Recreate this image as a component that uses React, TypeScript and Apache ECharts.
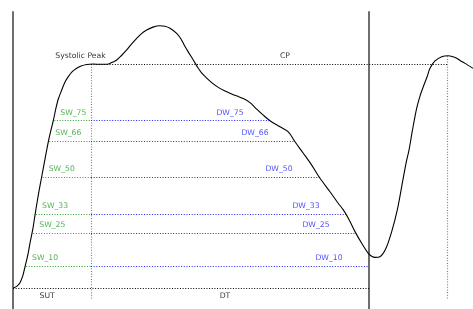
import React, { useEffect, useRef } from "react";
import * as echarts from "echarts";

// Pulse waveform (t in samples, amplitude normalised: foot = 0, systolic peak = 1)
const waveT = [0, 4, 7, 10, 12, 15, 17, 20, 22, 24, 26, 28.7, 32, 35.3, 38, 40.3, 43, 45.3, 48.7, 52, 55.3, 59, 63.7, 68, 73.7, 80, 87, 93, 97, 100, 103.7, 108, 113.7, 118, 123.7, 128, 133.7, 140, 147, 152, 157, 163.7, 168, 172, 176, 180.3, 185.3, 189, 193.7, 199, 205.3, 211, 217, 224, 230.3, 237, 243.7, 250, 257, 267, 275.3, 282, 290.3, 298.7, 307, 317, 325, 330.3, 335.3, 342, 348.7, 355.3, 359, 362, 367, 373, 378.7, 384.3, 388.7, 393, 396, 399.5, 403.7, 407, 410.3, 414, 417, 422, 428.7, 435.3, 439, 443.7, 447, 452, 460];
const waveA = [0, 0.01, 0.025, 0.059, 0.096, 0.153, 0.202, 0.269, 0.327, 0.381, 0.434, 0.498, 0.577, 0.654, 0.707, 0.748, 0.805, 0.845, 0.885, 0.921, 0.945, 0.966, 0.982, 0.992, 0.999, 1.001, 1.0, 1.0, 1.004, 1.01, 1.019, 1.037, 1.064, 1.088, 1.116, 1.135, 1.153, 1.166, 1.172, 1.17, 1.161, 1.138, 1.113, 1.079, 1.05, 1.019, 0.982, 0.959, 0.938, 0.917, 0.897, 0.883, 0.871, 0.858, 0.847, 0.829, 0.8, 0.774, 0.748, 0.721, 0.698, 0.654, 0.603, 0.55, 0.491, 0.431, 0.381, 0.35, 0.313, 0.253, 0.201, 0.156, 0.142, 0.138, 0.141, 0.179, 0.253, 0.35, 0.454, 0.558, 0.617, 0.707, 0.804, 0.858, 0.9, 0.943, 0.982, 1.015, 1.034, 1.038, 1.035, 1.027, 1.017, 1.004, 0.982];

// Key time points
const footT = 0;
const systolicPeakT = 78;
const cycleEndT = 356;
const nextPeakT = 434;
const nextPeakA = 1.036;

// Width levels
const levelNames = ["75", "66", "50", "33", "25", "10"];
const levelValues = [0.748, 0.656, 0.497, 0.332, 0.246, 0.1];
const swStartT = [41.3, 36.3, 29.7, 23, 20.3, 13];
const dwEndT = [257, 282, 306, 333, 343, 356];

const Y_MIN = -0.0924;
const Y_MAX = 1.287;
const GREEN = "#2ca02c";
const BLUE = "#1f1fff";
const FONT = "DejaVu Sans";
const FS = 7.7;

export default function App() {
  const ref = useRef<HTMLDivElement>(null);
  useEffect(() => {
    if (!ref.current) return;
    const chart = echarts.init(ref.current, null, { renderer: "svg" });
    const dotted = (color: string, width = 1) => ({ color, width, type: [1, 1.65] as number[] });
    const seg = (x1: number, y1: number, x2: number, y2: number, ls: any) => [
      { coord: [x1, y1], lineStyle: ls },
      { coord: [x2, y2] },
    ];
    const markLines: any[] = [
      seg(footT, 1.237, footT, Y_MIN, { color: "#6e6e6e", width: 2, type: "solid" }),
      seg(cycleEndT, 1.237, cycleEndT, Y_MIN, { color: "#6e6e6e", width: 2, type: "solid" }),
      seg(systolicPeakT, 1, systolicPeakT, -0.049, dotted("#808080", 1.2)),
      seg(nextPeakT, nextPeakA, nextPeakT, -0.049, dotted("#808080", 1.2)),
      seg(systolicPeakT, 1, nextPeakT, 1, dotted("#000")),
      seg(footT, 0, cycleEndT, 0, dotted("#000")),
    ];
    levelValues.forEach((lv, i) => {
      markLines.push(seg(swStartT[i], lv, systolicPeakT, lv, dotted(GREEN)));
      markLines.push(seg(systolicPeakT, lv, dwEndT[i], lv, dotted(BLUE)));
    });

    const lbl = (x: number, y: number, name: string, color: string, offset: number[], align = "center") => ({
      value: [x, y],
      name,
      label: { color, offset, align },
    });
    const labels: any[] = [
      lbl(systolicPeakT, 1, "Systolic Peak", "#000", [-10.5, -8.8]),
      lbl(272, 1, "CP", "#000", [0, -8.3]),
      lbl(34.2, 0, "SUT", "#000", [0, 7.4]),
      lbl(212, 0, "DT", "#000", [0, 7.4]),
    ];
    levelValues.forEach((lv, i) => {
      labels.push(lbl(swStartT[i], lv, "SW_" + levelNames[i], GREEN, [6, -8.7], "left"));
      labels.push(lbl(dwEndT[i], lv, "DW_" + levelNames[i], BLUE, [-40, -8.7]));
    });

    chart.setOption({
      animation: false,
      grid: { left: 0, right: 0, top: 0, bottom: 0 },
      xAxis: { type: "value", min: -13, max: 460, show: false },
      yAxis: { type: "value", min: Y_MIN, max: Y_MAX, show: false },
      series: [
        {
          type: "line",
          data: [],
          symbol: "none",
          markLine: { silent: true, symbol: "none", label: { show: false }, data: markLines },
        },
        {
          type: "line",
          data: waveT.map((t, i) => [t, waveA[i]]),
          symbol: "none",
          smooth: 0.3,
          lineStyle: { color: "#000", width: 1.1 },
          z: 5,
        },
        {
          type: "scatter",
          data: labels,
          symbolSize: 0,
          z: 6,
          label: {
            show: true,
            position: "inside",
            formatter: "{b}",
            fontFamily: FONT,
            fontSize: FS,
            verticalAlign: "middle",
          },
        },
      ],
    });
    return () => chart.dispose();
  }, []);
  return <div ref={ref} style={{ width: 473, height: 309, position: "fixed", left: 0, top: 0 }} />;
}
